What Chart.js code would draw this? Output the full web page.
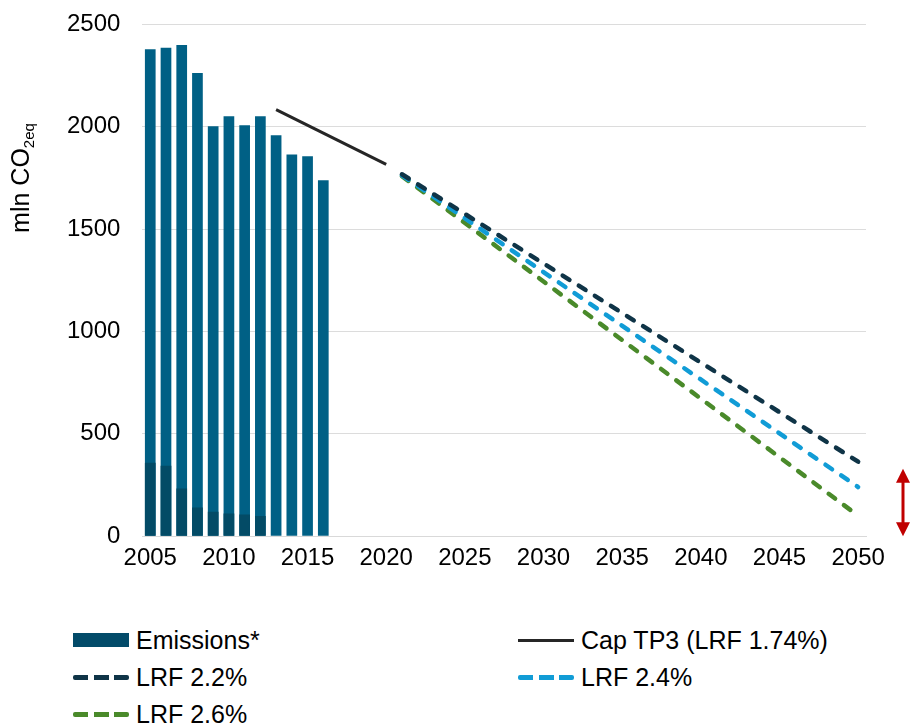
<!DOCTYPE html>
<html lang="en">
<head>
    <meta charset="UTF-8">
    <title>EU ETS emissions and cap</title>
    <script src="https://cdn.jsdelivr.net/npm/chart.js"></script>
    <style>
        body {
            margin: 0;
            background: #ffffff;
            font-family: "Liberation Sans", Arial, sans-serif;
            color: #000000;
        }
        .wrap {
            position: relative;
            width: 915px;
            height: 725px;
            overflow: hidden;
        }
        /* shifted up a little: the y tick padding also pads the top of the plot */
        .chart-box {
            position: absolute;
            left: 0;
            top: -12px;
            width: 915px;
            height: 604px;
        }
        .legend {
            position: absolute;
            left: 73px;
            top: 628px;
            display: grid;
            grid-template-columns: 445px 330px;
            row-gap: 13px;
            font-size: 25px;
        }
        .legend .item {
            display: flex;
            align-items: center;
            height: 24px;
        }
        .legend .swatch {
            width: 56px;
            margin-right: 7px;
        }
    </style>
</head>
<body>
<div class="wrap">
    <div class="chart-box"><canvas id="chart"></canvas></div>
    <div class="legend" id="legend"></div>
</div>

<script>
    // years on the category axis
    const years = [];
    for (let y = 2005; y <= 2050; y++) years.push(String(y));

    // verified emissions, 2005-2016 (mln t CO2eq)
    const emissionYears = ['2005', '2006', '2007', '2008', '2009', '2010', '2011', '2012', '2013', '2014', '2015', '2016'];
    const emissions = [2379, 2386, 2399, 2263, 2002, 2051, 2007, 2051, 1958, 1865, 1856, 1739];
    // darker lower part of the early bars
    const emissionsLower = [359, 344, 233, 140, 119, 111, 106, 99, 0, 0, 0, 0];

    // cap phase 3 and the post-2020 trajectories (start / end points)
    const capYears = ['2013', '2020'];
    const capTP3 = [2084, 1816];
    const trajYears = ['2021', '2050'];
    const lrf22 = [1768, 364];
    const lrf24 = [1763, 240];
    const lrf26 = [1759, 100];

    // range marker on the right (red double arrow)
    const arrowRange = [0, 330];

    function onYears(keys, vals) {
        return years.map(y => {
            const i = keys.indexOf(y);
            return i >= 0 ? vals[i] : null;
        });
    }

    const FONT = '"Liberation Sans", Arial, sans-serif';

    const yTitle = {
        id: 'yTitle',
        afterDraw(chart) {
            const ctx = chart.ctx;
            ctx.save();
            ctx.translate(29, 190);
            ctx.rotate(-Math.PI / 2);
            ctx.fillStyle = '#000';
            ctx.textBaseline = 'alphabetic';
            const main = 'mln CO';
            ctx.font = '25px ' + FONT;
            const w1 = ctx.measureText(main).width;
            ctx.font = '15px ' + FONT;
            const w2 = ctx.measureText('2eq').width;
            const x = -(w1 + w2) / 2;
            ctx.font = '25px ' + FONT;
            ctx.fillText(main, x, 0);
            ctx.font = '15px ' + FONT;
            ctx.fillText('2eq', x + w1, 5);
            ctx.restore();
        }
    };

    const rangeArrow = {
        id: 'rangeArrow',
        afterDraw(chart) {
            const ctx = chart.ctx;
            const ys = chart.scales.y;
            const x = chart.chartArea.right + 37;
            const y0 = ys.getPixelForValue(arrowRange[0]);
            const y1 = ys.getPixelForValue(arrowRange[1]);
            ctx.save();
            ctx.fillStyle = '#c00000';
            ctx.strokeStyle = '#c00000';
            ctx.lineWidth = 3;
            ctx.beginPath();
            ctx.moveTo(x, y1 + 10);
            ctx.lineTo(x, y0 - 10);
            ctx.stroke();
            ctx.beginPath();
            ctx.moveTo(x, y1);
            ctx.lineTo(x - 7, y1 + 14);
            ctx.lineTo(x + 7, y1 + 14);
            ctx.closePath();
            ctx.fill();
            ctx.beginPath();
            ctx.moveTo(x, y0);
            ctx.lineTo(x - 7, y0 - 14);
            ctx.lineTo(x + 7, y0 - 14);
            ctx.closePath();
            ctx.fill();
            ctx.restore();
        }
    };

    const dashed = (label, vals, color) => ({
        type: 'line',
        label: label,
        data: onYears(trajYears, vals),
        borderColor: color,
        borderWidth: 4.5,
        borderDash: [8, 11],
        borderCapStyle: 'round',
        spanGaps: true,
        pointRadius: 0
    });

    const chart = new Chart(document.getElementById('chart'), {
        type: 'bar',
        data: {
            labels: years,
            datasets: [
                {
                    label: 'lower',
                    data: onYears(emissionYears, emissionsLower),
                    backgroundColor: '#034b66',
                    barPercentage: 0.68,
                    categoryPercentage: 1,
                    hideInLegend: true
                },
                {
                    label: 'Emissions*',
                    data: onYears(emissionYears, emissions),
                    backgroundColor: '#006085',
                    legendColor: '#034b69',
                    barPercentage: 0.68,
                    categoryPercentage: 1
                },
                {
                    type: 'line',
                    label: 'Cap TP3 (LRF 1.74%)',
                    data: onYears(capYears, capTP3),
                    borderColor: '#262626',
                    borderWidth: 3,
                    spanGaps: true,
                    pointRadius: 0
                },
                dashed('LRF 2.2%', lrf22, '#0f3447'),
                dashed('LRF 2.4%', lrf24, '#119cd6'),
                dashed('LRF 2.6%', lrf26, '#4a8a2a')
            ]
        },
        options: {
            responsive: true,
            maintainAspectRatio: false,
            animation: false,
            layout: { padding: { left: 45, right: 49, top: 2, bottom: 11 } },
            plugins: {
                legend: { display: false },
                tooltip: { enabled: false }
            },
            scales: {
                x: {
                    stacked: true,
                    grid: { display: false, drawTicks: false },
                    border: { color: '#d9d9d9', width: 1 },
                    ticks: {
                        autoSkip: false,
                        maxRotation: 0,
                        padding: 8,
                        color: '#000',
                        font: { family: FONT, size: 24 },
                        callback: function (v) {
                            const y = Number(this.getLabelForValue(v));
                            return y % 5 === 0 ? String(y) : '';
                        }
                    }
                },
                y: {
                    stacked: false,
                    min: 0,
                    max: 2500,
                    grid: { color: '#dcdcdc', drawTicks: false },
                    border: { display: false },
                    ticks: {
                        stepSize: 500,
                        padding: 22,
                        color: '#000',
                        font: { family: FONT, size: 24 },
                        callback: v => String(v)
                    }
                }
            }
        },
        plugins: [yTitle, rangeArrow]
    });

    // legend in two columns below the chart
    const legendEl = document.getElementById('legend');
    chart.data.datasets.forEach(ds => {
        if (ds.hideInLegend) return;
        const item = document.createElement('div');
        item.className = 'item';
        const sw = document.createElement('div');
        sw.className = 'swatch';
        if (ds.type === 'line') {
            if (ds.borderDash) {
                sw.style.height = '5px';
                sw.style.background = 'repeating-linear-gradient(to right, ' + ds.borderColor +
                    ' 0 15px, transparent 15px 20.5px)';
                sw.style.borderRadius = '2px';
            } else {
                sw.style.height = '3px';
                sw.style.background = ds.borderColor;
            }
        } else {
            sw.style.height = '14px';
            sw.style.background = ds.legendColor || ds.backgroundColor;
        }
        const txt = document.createElement('span');
        txt.textContent = ds.label;
        item.appendChild(sw);
        item.appendChild(txt);
        legendEl.appendChild(item);
    });
</script>
</body>
</html>
